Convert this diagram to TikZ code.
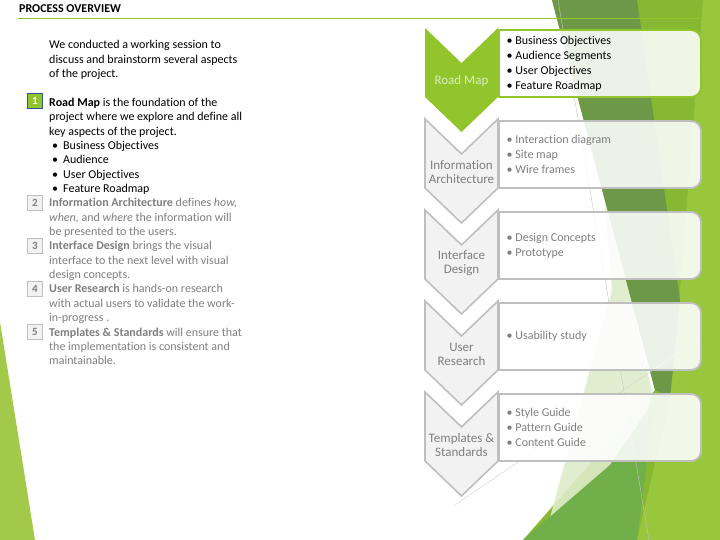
\documentclass[tikz,border=0pt]{standalone}
\usepackage{fontspec}
\setmainfont{Carlito}[Ligatures=NoCommon]
\definecolor{gc}{RGB}{146,197,44}
\definecolor{nc}{RGB}{47,85,151}
\definecolor{tc}{RGB}{127,127,127}
\definecolor{bc}{RGB}{191,191,191}
\definecolor{fc}{RGB}{242,242,242}
\definecolor{rl}{RGB}{216,236,192}
\definecolor{lc}{RGB}{222,236,202}
\definecolor{ga}{RGB}{134,184,50}
\definecolor{gb}{RGB}{108,152,72}
\definecolor{gd}{RGB}{112,175,74}
\definecolor{ge}{RGB}{152,198,60}
\definecolor{gf}{RGB}{163,201,74}
\tikzset{t/.style={anchor=base west,inner sep=0pt,font=\fontsize{12}{14.4}\selectfont},
 tg/.style={t,text=tc},
 num/.style={draw=bc,fill=fc,line width=1.2pt,minimum size=14.5pt,inner sep=0pt,text=tc,font=\fontsize{11}{12}\selectfont\bfseries},
 chev/.style={draw=bc,fill=fc,line width=1.6pt},
 lab/.style={align=center,text=tc,inner sep=0pt,font=\fontsize{13}{14}\selectfont},
 box/.style={draw=bc,fill=white,fill opacity=.88,line width=1.8pt},
 itm/.style={align=left,anchor=west,text=tc,inner sep=0pt,font=\fontsize{12}{15}\selectfont}}
\begin{document}
\begin{tikzpicture}[x=1pt,y=-1pt]
\useasboundingbox[fill=white] (0,0) rectangle (720,540);
% background facets
\fill[gf] (0,322) -- (35,540) -- (0,540) -- cycle;
\fill[ga] (552,0) -- (720,0) -- (720,540) -- (523,540) -- (655,390) -- cycle;
\fill[ge] (703,0) -- (720,0) -- (720,540) -- (637,540) -- (670,400) -- (680,290) -- cycle;
\fill[lc,opacity=.9] (603,180) -- (652,392) -- (640,440) -- (548,525) -- (590,370) -- (612,290) -- cycle;
\fill[gb] (552,0) -- (637,0) -- (680,300) -- (670,398) -- (655,390) -- cycle;
\fill[gd] (523,540) -- (637,540) -- (655,400) -- (610,465) -- cycle;
\draw[gray!45,line width=.4pt] (558,0) -- (649,540);
\draw[gray!35,line width=.4pt] (455,505) -- (700,338);
% title
\node[anchor=base west,inner sep=0pt,font=\fontsize{12}{14}\selectfont\bfseries] (ttl) at (19,12.7) {PROCESS OVERVIEW};
\draw[gc,line width=1pt] (18,18.3) -- (702,18.3);
% left column
\node[num,fill=gc,draw=nc,text=white] (n1) at (35,101) {1};
\foreach \i/\y in {2/203,3/246,4/289,5/332} \node[num] (n\i) at (35,\y) {\i};
\foreach \k/\x/\s in {0/49/{We conducted a working session to},1/49/{discuss and brainstorm several aspects},2/49/{of the project.},
 4/49/{\textbf{Road Map} is the foundation of the},5/49/{project where we explore and define all},6/49/{key aspects of the project.},
 7/52/{\makebox[11pt][l]{•}Business Objectives},8/52/{\makebox[11pt][l]{•}Audience},9/52/{\makebox[11pt][l]{•}User Objectives},10/52/{\makebox[11pt][l]{•}Feature Roadmap}}
 \node[t] (p\k) at (\x,{49+14.35*\k}) {\s};
\foreach \k/\s in {11/{\textbf{Information Architecture} defines \textit{how,}},12/{\textit{when,} and \textit{where} the information will},13/{be presented to the users.},
 14/{\textbf{Interface Design} brings the visual},15/{interface to the next level with visual},16/{design concepts.},
 17/{\textbf{User Research} is hands-on research},18/{with actual users to validate the work-},19/{in-progress .},
 20/{\textbf{Templates \& Standards} will ensure that},21/{the implementation is consistent and},22/{maintainable.}}
 \node[tg] (p\k) at (49,{49+14.35*\k}) {\s};
% chevrons
\fill[gc] (425,28) -- (461.5,63) -- (498,28) -- (498,97) -- (461.5,132) -- (425,97) -- cycle;
\node[lab,text=rl] (c1) at (461.5,81) {Road Map};
\foreach \i/\s in {2/{Information\\Architecture},3/{Interface\\Design},4/{User\\Research},5/{Templates \&\\Standards}}{
 \pgfmathsetmacro\t{28+91*(\i-1)}
 \draw[chev] (425,\t) -- (461.5,\t+35) -- (498,\t) -- (498,\t+69) -- (461.5,\t+104) -- (425,\t+69) -- cycle;
 \node[lab] (c\i) at (461.5,\t+53) {\s};}
% boxes
\foreach \i/\bcol/\tcol/\s in {1/gc/black/{• Business Objectives\\• Audience Segments\\• User Objectives\\• Feature Roadmap},
 2/bc/tc/{• Interaction diagram\\• Site map\\• Wire frames},3/bc/tc/{• Design Concepts\\• Prototype},
 4/bc/tc/{• Usability study},5/bc/tc/{• Style Guide\\• Pattern Guide\\• Content Guide}}{
 \pgfmathsetmacro\b{30+91*(\i-1)}
 \draw[box,draw=\bcol] (499,\b) -- (691,\b) arc[start angle=90,end angle=0,radius=10pt] -- (701,\b+57) arc[start angle=0,end angle=-90,radius=10pt] -- (499,\b+67) -- cycle;
 \node[itm,text=\tcol] (b\i) at (506.5,\b+33.5) {\s};}
\end{tikzpicture}
\end{document}
